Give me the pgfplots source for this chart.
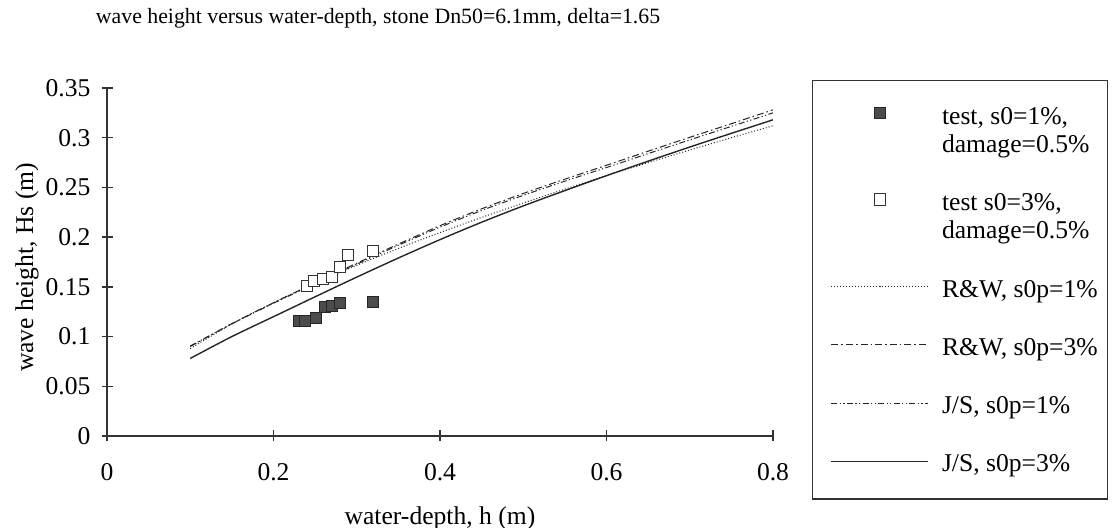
\documentclass[border=0pt]{standalone}
\usepackage{fontspec}
\setmainfont{Liberation Serif}
\usepackage{pgfplots}
\pgfplotsset{compat=1.18}
\pgfplotsset{
  markleg/.style={legend image code/.code={\path (0pt,0pt); \draw[mark repeat=2,mark phase=2,##1] plot coordinates {(4pt,#1) (28.25pt,#1) (52.5pt,#1)};}},
}
\begin{document}
\begin{tikzpicture}
\path[use as bounding box] (0,0) rectangle (556pt,264pt);
\begin{axis}[
  at={(53.5pt,46pt)}, anchor=south west,
  scale only axis, width=333pt, height=174pt,
  xmin=0, xmax=0.8, ymin=0, ymax=0.35,
  axis x line*=bottom, axis y line*=left,
  axis line style={black!80, line width=0.65pt},
  xtick={0,0.2,0.4,0.6,0.8}, xticklabels={0,0.2,0.4,0.6,0.8},
  ytick={0,0.05,0.1,0.15,0.2,0.25,0.3,0.35},
  yticklabels={0,0.05,0.1,0.15,0.2,0.25,0.3,0.35},
  tick align=center, major tick length=5.5pt,
  tick style={black!80, line width=0.65pt},
  /pgf/number format/assume math mode=true,
  ticklabel style={font=\fontsize{12.8}{14}\selectfont},
  xticklabel style={yshift=-7.5pt},
  yticklabel style={xshift=-2pt},
  xlabel={water-depth, h (m)},
  ylabel={wave height, Hs (m)},
  label style={font=\fontsize{12.8}{14}\selectfont},
  xlabel style={at={(rel axis cs:0.5,-0.2356)}, anchor=center},
  ylabel style={at={(rel axis cs:-0.12,0.4842)}, anchor=center},
  title={wave height versus water-depth, stone Dn50=6.1mm, delta=1.65},
  title style={at={(rel axis cs:0.407,1.165)}, anchor=center, font=\fontsize{10.9}{12}\selectfont},
  legend style={at={(rel axis cs:1.0586,1.023)}, anchor=north west,
    draw=black!80, line width=0.6pt, inner xsep=5pt, inner ysep=12.2pt,
    row sep=17.8pt, column sep=6.5pt, nodes={inner sep=0pt}, align=left,
    font=\fontsize{12.8}{14}\selectfont},
  legend cell align=left,
  markleg=1pt,
]
% curves
\addplot[forget plot, black!85, line width=0.5pt, dash pattern=on 0.5pt off 1pt, smooth] coordinates {
(0.10,0.0879) (0.15,0.1126) (0.20,0.1341) (0.25,0.1536) (0.30,0.1717) (0.35,0.1886) (0.40,0.2046) (0.45,0.2198) (0.50,0.2343) (0.55,0.2483) (0.60,0.2619) (0.65,0.2749) (0.70,0.2876) (0.75,0.3000) (0.80,0.3120)};
\addplot[forget plot, black!85, line width=0.5pt, dash pattern=on 3.5pt off 1.5pt on 0.8pt off 1.5pt, smooth] coordinates {
(0.10,0.0900) (0.15,0.1130) (0.20,0.1340) (0.25,0.1540) (0.30,0.1738) (0.35,0.1930) (0.40,0.2115) (0.45,0.2285) (0.50,0.2439) (0.55,0.2583) (0.60,0.2723) (0.65,0.2864) (0.70,0.3004) (0.75,0.3141) (0.80,0.3280)};
\addplot[forget plot, black!85, line width=0.5pt, dash pattern=on 3pt off 1.2pt on 0.6pt off 1.2pt on 0.6pt off 1.2pt, smooth] coordinates {
(0.10,0.0905) (0.15,0.1128) (0.20,0.1335) (0.25,0.1532) (0.30,0.1728) (0.35,0.1918) (0.40,0.2100) (0.45,0.2268) (0.50,0.2420) (0.55,0.2563) (0.60,0.2700) (0.65,0.2840) (0.70,0.2978) (0.75,0.3114) (0.80,0.3250)};
\addplot[forget plot, black!85, line width=0.7pt, smooth] coordinates {
(0.10,0.0780) (0.15,0.1000) (0.20,0.1200) (0.25,0.1400) (0.30,0.1598) (0.35,0.1790) (0.40,0.1975) (0.45,0.2150) (0.50,0.2314) (0.55,0.2468) (0.60,0.2618) (0.65,0.2764) (0.70,0.2906) (0.75,0.3044) (0.80,0.3180)};
% test points
\addplot[only marks, mark=square*, mark size=2.8pt, mark options={fill=black!70, draw=black!85, line width=0.5pt}, markleg=8.75pt] coordinates {
(0.2306,0.1160) (0.2378,0.1160) (0.2507,0.1190) (0.2619,0.1300) (0.2699,0.1307) (0.2799,0.1335) (0.3192,0.1351)};
\addlegendentry{\strut test, s0=1\%,\\\strut damage=0.5\%}
\addplot[only marks, mark=square*, mark size=2.8pt, mark options={fill=white, draw=black!80, line width=0.5pt}, markleg=8.5pt] coordinates {
(0.2406,0.1509) (0.2486,0.1562) (0.2591,0.1579) (0.2699,0.1596) (0.2799,0.1703) (0.2899,0.1820) (0.3192,0.1861)};
\addlegendentry{\strut test s0=3\%,\\\strut damage=0.5\%}
\addlegendimage{black!85, line width=0.5pt, dash pattern=on 0.5pt off 1pt}
\addlegendentry{\strut R\&W, s0p=1\%}
\addlegendimage{black!85, line width=0.5pt, dash pattern=on 3.5pt off 1.5pt on 0.8pt off 1.5pt}
\addlegendentry{\strut R\&W, s0p=3\%}
\addlegendimage{black!85, line width=0.5pt, dash pattern=on 3pt off 1.2pt on 0.6pt off 1.2pt on 0.6pt off 1.2pt}
\addlegendentry{\strut J/S, s0p=1\%}
\addlegendimage{black!85, line width=0.7pt}
\addlegendentry{\strut J/S, s0p=3\%}
\end{axis}
\end{tikzpicture}
\end{document}
